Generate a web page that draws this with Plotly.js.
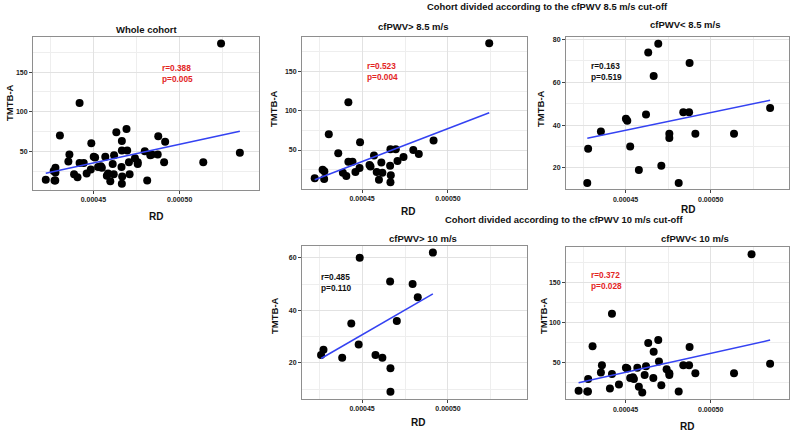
<!DOCTYPE html>
<html><head><meta charset="utf-8">
<script src="https://cdn.plot.ly/plotly-3.0.1.min.js"></script>
<style>body{margin:0;background:#fff}#chart{width:794px;height:432px}</style>
</head><body><div id="chart"></div>
<script>
// cfPWV > 8.5 m/s
const hi85RD = [0.000524,0.000442,0.0004306,0.0004488,0.0004361,0.000427,0.000428,0.0004224,0.0004279,0.000442,0.0004444,0.0004388,0.0004408,0.0004461,0.0004485,0.0004543,0.0004549,0.0004569,0.0004612,0.0004585,0.0004618,0.0004598,0.0004665,0.0004696,0.0004663,0.0004667,0.0004665,0.0004706,0.0004741,0.0004798,0.000483,0.0004916];
const hi85TMT = [186,111,70,60,46,25,23,14,13,35,35,21,17,22,27,31,29,43,34,22,21,12,51,51,30,18,9,36,41,50,45,62];
// cfPWV < 8.5 m/s
const lo85RD = [0.0004692,0.0004633,0.0004876,0.0004665,0.0004502,0.000451,0.000462,0.0004839,0.0004873,0.0004355,0.0004757,0.0004757,0.000491,0.0005137,0.0005349,0.000428,0.0004527,0.0004578,0.000471,0.0004812,0.0004275];
const lo85TMT = [78,74,69,63,43,42,45,46,46,37,36,34,36,36,48,29,30,19,21,13,13];
// cfPWV > 10 m/s
const hi10RD = [0.0004486,0.0004912,0.0004663,0.0004794,0.0004824,0.0004702,0.0004437,0.000448,0.0004275,0.0004261,0.0004384,0.0004578,0.0004618,0.0004665,0.0004665];
const hi10TMT = [60,62,51,50,45,36,35,27,25,23,22,23,22,18,9];
// cfPWV < 10 m/s
const lo10RD = [0.0004692,0.0004633,0.0004876,0.0004665,0.0004502,0.000451,0.000462,0.0004839,0.0004873,0.0004355,0.0004757,0.0004757,0.000491,0.0005137,0.0005349,0.000428,0.0004527,0.0004578,0.000471,0.0004812,0.0004275,
  0.000524,0.000442,0.0004306,0.0004361,0.0004224,0.0004279,0.000442,0.0004408,0.0004461,0.0004543,0.0004549,0.0004569,0.0004612,0.0004598,0.0004696,0.0004663,0.0004741];
const lo10TMT = [78,74,69,63,43,42,45,46,46,37,36,34,36,36,48,29,30,19,21,13,13,
  186,111,70,46,14,13,35,17,22,31,29,43,34,12,51,30,41];
// whole cohort = both 8.5 m/s groups
const wholeRD = hi85RD.concat(lo85RD);
const wholeTMT = hi85TMT.concat(lo85TMT);

const panelTitles = ['Whole cohort','cfPWV> 8.5 m/s','cfPWV< 8.5 m/s','cfPWV> 10 m/s','cfPWV< 10 m/s'];
const statTexts = ['r=0.388<br>p=0.005','r=0.523<br>p=0.004','r=0.163<br>p=0.519','r=0.485<br>p=0.110','r=0.372<br>p=0.028'];
const groupTitles = ['Cohort divided according to the cfPWV 8.5 m/s cut-off','Cohort divided according to the cfPWV 10 m/s cut-off'];
const xTitle = 'RD', yTitle = 'TMTB-A';

const W = 794, H = 432;
const px = v => v / W, py = v => 1 - v / H;
const FONT = 'Liberation Sans, Arial, sans-serif';
const RED = '#e3261f';

const panels = [
  {rd: wholeRD, tm: wholeTMT, xd:[33,259], yd:[37,190], yr:[1,194.3], dt:50, mdt:25, tx:147, ty:29, sc:RED, sx:0.0004987, sy:148, rdx:156, rdy:217, tmx:9, tmy:103},
  {rd: hi85RD, tm: hi85TMT, xd:[302,527], yd:[37,188.5], yr:[1,194], dt:50, mdt:25, tx:413, ty:26, sc:RED, sx:0.000462, sy:150, rdx:408, rdy:211, tmx:273, tmy:109},
  {rd: lo85RD, tm: lo85TMT, xd:[566,789], yd:[37,189.3], yr:[10,81.2], dt:20, mdt:10, tx:685, ty:25, sc:'#111', sx:0.000439, sy:65.3, rdx:688, rdy:209, tmx:540, tmy:109},
  {rd: hi10RD, tm: hi10TMT, xd:[302,527], yd:[246,398.7], yr:[6.4,64.5], dt:20, mdt:10, tx:423, ty:238, sc:'#111', sx:0.000435, sy:50.5, rdx:418, rdy:422, tmx:274, tmy:316},
  {rd: lo10RD, tm: lo10TMT, xd:[566,789], yd:[247.3,399.3], yr:[3.3,194.6], dt:50, mdt:25, tx:695, ty:238, sc:RED, sx:0.000439, sy:153, rdx:687, rdy:426, tmx:543, tmy:316}
];

function fit(xs, ys) {
  const n = xs.length;
  const mx = xs.reduce((a,b)=>a+b,0)/n, my = ys.reduce((a,b)=>a+b,0)/n;
  let sxy = 0, sxx = 0;
  for (let i=0;i<n;i++){ sxy += (xs[i]-mx)*(ys[i]-my); sxx += (xs[i]-mx)*(xs[i]-mx); }
  const b = sxy/sxx; return {b, a: my - b*mx};
}

const traces = [], annotations = [];
const layout = {
  width: W, height: H, margin:{l:0,r:0,t:0,b:0},
  paper_bgcolor:'#fff', plot_bgcolor:'#fff', showlegend:false,
  font:{family:FONT, color:'#111'}
};

panels.forEach((p, i) => {
  const n = i + 1;
  const xa = n === 1 ? 'x' : 'x' + n, ya = n === 1 ? 'y' : 'y' + n;
  const axCommon = {
    showgrid:true, gridcolor:'#e2e2e2', gridwidth:1,
    showline:true, mirror:true, linecolor:'#8e8e8e', linewidth:1,
    ticks:'outside', ticklen:3, tickwidth:1, tickcolor:'#444',
    tickfont:{family:FONT, size:7, color:'#1a1a1a', weight:'bold'},
    zeroline:false, fixedrange:true
  };
  layout['xaxis' + (n===1?'':n)] = Object.assign({}, axCommon, {
    domain:[px(p.xd[0]), px(p.xd[1])], anchor: ya,
    range:[0.000415, 0.000546], tickmode:'linear', tick0:0, dtick:0.00005,
    tickformat:'.5f', exponentformat:'none',
    minor:{dtick:0.000025, tick0:0, showgrid:true, gridcolor:'#eeeeee', ticks:''}
  });
  layout['yaxis' + (n===1?'':n)] = Object.assign({}, axCommon, {
    domain:[py(p.yd[1]), py(p.yd[0])], anchor: xa,
    range:p.yr, tickmode:'linear', tick0:0, dtick:p.dt,
    minor:{dtick:p.mdt, tick0:0, showgrid:true, gridcolor:'#eeeeee', ticks:''}
  });
  traces.push({type:'scatter', mode:'markers', x:p.rd, y:p.tm, xaxis:xa, yaxis:ya,
    marker:{size:8, color:'#000'}, hoverinfo:'x+y', cliponaxis:false});
  const f = fit(p.rd, p.tm);
  const xmin = Math.min(...p.rd), xmax = Math.max(...p.rd);
  traces.push({type:'scatter', mode:'lines', x:[xmin,xmax], y:[f.a+f.b*xmin, f.a+f.b*xmax],
    xaxis:xa, yaxis:ya, line:{color:'#3442f2', width:1.5}, hoverinfo:'skip'});
  annotations.push({xref:xa, yref:ya, x:p.sx, y:p.sy, text:statTexts[i], showarrow:false,
    xanchor:'center', yanchor:'middle', align:'left',
    font:{family:FONT, size:8.3, color:p.sc, weight:'bold'}});
  annotations.push({xref:'paper', yref:'paper', x:px(p.tx), y:py(p.ty), text:panelTitles[i], showarrow:false,
    xanchor:'center', yanchor:'middle', font:{family:FONT, size:9.5, color:'#111', weight:'bold'}});
  annotations.push({xref:'paper', yref:'paper', x:px(p.rdx), y:py(p.rdy), text:xTitle, showarrow:false,
    xanchor:'center', yanchor:'middle', font:{family:FONT, size:10, color:'#111', weight:'bold'}});
  annotations.push({xref:'paper', yref:'paper', x:px(p.tmx), y:py(p.tmy), text:yTitle, showarrow:false, textangle:-90,
    xanchor:'center', yanchor:'middle', font:{family:FONT, size:9.5, color:'#111', weight:'bold'}});
});
annotations.push({xref:'paper', yref:'paper', x:px(547.5), y:py(6.5), text:groupTitles[0], showarrow:false,
  xanchor:'center', yanchor:'middle', font:{family:FONT, size:9.4, color:'#111', weight:'bold'}});
annotations.push({xref:'paper', yref:'paper', x:px(564), y:py(219), text:groupTitles[1], showarrow:false,
  xanchor:'center', yanchor:'middle', font:{family:FONT, size:9.4, color:'#111', weight:'bold'}});
layout.annotations = annotations;

Plotly.newPlot('chart', traces, layout, {displayModeBar:false, staticPlot:true});
</script>
</body></html>
